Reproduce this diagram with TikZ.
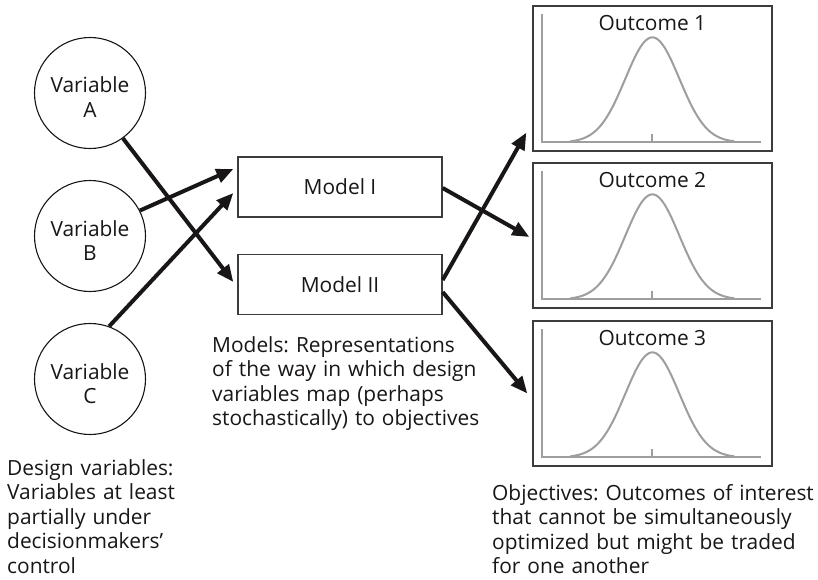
\documentclass[tikz,border=0pt]{standalone}
\usepackage{fontspec}
\setmainfont{Open Sans}
\frenchspacing
\usetikzlibrary{arrows.meta}
\definecolor{ink}{RGB}{25,22,23}
\definecolor{plotgray}{RGB}{158,158,158}
\definecolor{framegray}{RGB}{60,60,60}
\begin{document}
\begin{tikzpicture}[x=1pt,y=-1pt,
  txt/.style={text=ink, font=\fontsize{20.9}{24.5}\selectfont, inner sep=0pt},
  para/.style={txt, anchor=base west, text width=420pt, align=left},
  varc/.style={circle, draw=ink, line width=1.1pt, minimum size=111pt, inner sep=0pt},
  modelbox/.style={draw=framegray, line width=1.3pt, minimum width=204pt, minimum height=60pt, inner sep=0pt, txt},
  outbox/.style={draw=framegray, line width=1.3pt, minimum width=239pt, minimum height=145pt, inner sep=0pt},
  axisline/.style={draw=plotgray, line width=2pt},
  arr/.style={draw=ink, line width=4pt, -{Triangle[length=17pt,width=14pt]}}]
\useasboundingbox (0,0) rectangle (818,580);
\fill[white] (0,0) rectangle (818,580);

% design variables
\node[varc] (A) at (90,93) {};
\node[txt, anchor=base, text width=110pt, align=center] (Atxt) at (90,93) {Variable\\A};
\node[varc] (B) at (90,236) {};
\node[txt, anchor=base, text width=110pt, align=center] (Btxt) at (90,236) {Variable\\B};
\node[varc] (C) at (90,379) {};
\node[txt, anchor=base, text width=110pt, align=center] (Ctxt) at (90,379) {Variable\\C};

% models
\node[modelbox] (M1) at (340,187) {Model I};
\node[modelbox] (M2) at (340,284.5) {Model II};

% outcomes
\node[outbox] (O1) at (652.5,78.5) {};
\node[outbox] (O2) at (652.5,235.5) {};
\node[outbox] (O3) at (652.5,393.5) {};

\foreach \n in {1,2,3}{
  \begin{scope}[shift={(O\n.north west)}]
    \draw[axisline] (10,9) |- (229,137);
    \draw[axisline] (120,129) -- (120,137);
    \draw[axisline, line join=round] plot[domain=-82:82, samples=81, smooth]
      ({120+\x},{137-105*exp(-0.5*(\x/27)*(\x/27))});
    \node[txt, anchor=base] (T\n) at (120,25) {Outcome \n};
  \end{scope}
}

% connectors
\draw[arr] (A.-54) -- ([xshift=-4pt,yshift=2.5pt]M2.west);
\draw[arr] (B.27) -- ([xshift=-4pt,yshift=18pt]M1.west);
\draw[arr] (C.70) -- ([xshift=-4pt,yshift=-6pt]M1.west);
\draw[arr] ([yshift=-1pt]M1.east) -- ([xshift=-3pt,yshift=-1.5pt]O2.west);
\draw[arr] ([yshift=4.5pt]M2.east) -- ([xshift=-6pt,yshift=19pt]O1.south west);
\draw[arr] ([yshift=-7.5pt]M2.east) -- ([xshift=-5pt]O3.west);

% captions
\node[para] (models) at (212,352)
  {Models: Representations\\of the way in which design\\variables map (perhaps\\stochastically) to objectives};
\node[para] (design) at (7,475)
  {Design variables:\\Variables at least\\partially under\\decisionmakers’\\control};
\node[para] (objectives) at (492,500)
  {Objectives: Outcomes of interest\\that cannot be simultaneously\\optimized but might be traded\\for one another};
\end{tikzpicture}
\end{document}
